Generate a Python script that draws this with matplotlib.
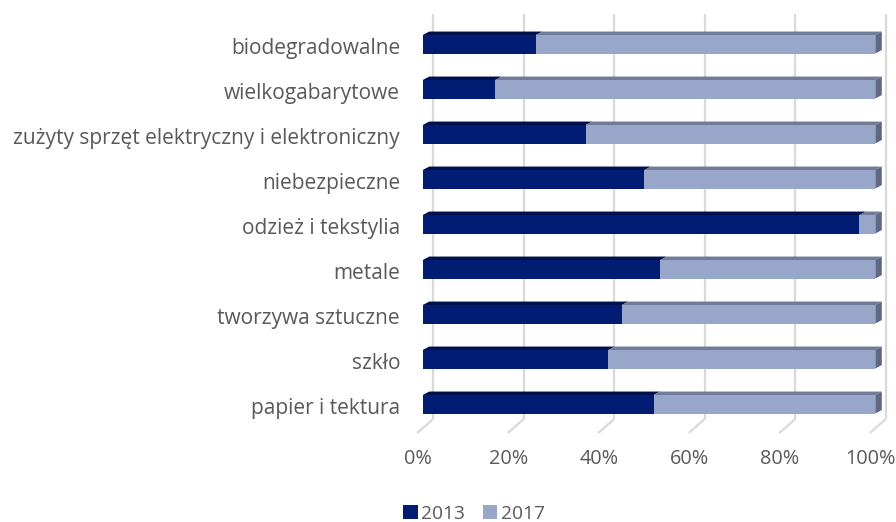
import matplotlib
matplotlib.use('Agg')
import matplotlib.pyplot as plt
from matplotlib.patches import Polygon, Patch
from matplotlib.transforms import ScaledTranslation

categories = ['biodegradowalne', 'wielkogabarytowe',
              'zużyty sprzęt elektryczny i elektroniczny', 'niebezpieczne',
              'odzież i tekstylia', 'metale', 'tworzywa sztuczne', 'szkło',
              'papier i tektura']
share_2013 = [25, 16, 36, 49, 96.5, 52.5, 44, 41, 51]
share_2017 = [75, 84, 64, 51, 3.5, 47.5, 56, 59, 49]
series_names = ['2013', '2017']
tick_values = [0, 20, 40, 60, 80, 100]
tick_labels = ['0%', '20%', '40%', '60%', '80%', '100%']

plt.rcParams['font.family'] = ['Open Sans', 'DejaVu Sans']
TXT = '#595959'
DARK = '#001C73'
DARK_TOP = '#00104C'
LIGHT = '#98A6C9'
LIGHT_TOP = '#6F7B97'
LIGHT_SIDE = '#5F6882'
GRID = '#D9D9D9'

W, H = 896, 522
fig = plt.figure(figsize=(W / 100, H / 100), dpi=100)

pxu = 4.526          # pixels per percent
x0_px = 422.7        # pixel of 0% on the front face
y0_px = 44.3         # pixel center of first bar
ystep = 45.0         # pixels per category
xlim = (-3, 104)
top_px, bot_px = 10, 440
ax_left = x0_px + xlim[0] * pxu
ax_w = (xlim[1] - xlim[0]) * pxu
ylim_top = (top_px - y0_px) / ystep
ylim_bot = (bot_px - y0_px) / ystep
ax = fig.add_axes([ax_left / W, (H - bot_px) / H, ax_w / W, (bot_px - top_px) / H])
ax.set_xlim(*xlim)
ax.set_ylim(ylim_bot, ylim_top)
for s in ax.spines.values():
    s.set_visible(False)

# depth offsets
bdx, bdy = 6.5 / pxu, 3.5 / ystep
gdx = 10.5 / pxu
fdx = -5.5 / pxu
g_top = (14 - y0_px) / ystep
g_floor = (419 - y0_px) / ystep
g_front = (433 - y0_px) / ystep

for v in tick_values:
    ax.plot([v + gdx, v + gdx], [g_top, g_floor], color=GRID, lw=1.6, zorder=0,
            solid_capstyle='butt')
    ax.plot([v + gdx, v + fdx], [g_floor, g_front], color=GRID, lw=1.6, zorder=0,
            solid_capstyle='butt')

ypos = list(range(len(categories)))
h = 18.5 / ystep
ax.barh(ypos, share_2013, height=h, color=DARK, zorder=3, label=series_names[0])
ax.barh(ypos, share_2017, left=share_2013, height=h, color=LIGHT, zorder=3,
        label=series_names[1])

for y, a, b in zip(ypos, share_2013, share_2017):
    yt = y - h / 2
    yb = y + h / 2
    ax.add_patch(Polygon([(0, yt), (a, yt), (a + bdx, yt - bdy), (0 + bdx, yt - bdy)],
                         closed=True, facecolor=DARK_TOP, edgecolor='none', zorder=2))
    ax.add_patch(Polygon([(a, yt), (a + b, yt), (a + b + bdx, yt - bdy), (a + bdx, yt - bdy)],
                         closed=True, facecolor=LIGHT_TOP, edgecolor='none', zorder=2))
    ax.add_patch(Polygon([(a + b, yt), (a + b, yb), (a + b + bdx, yb - bdy), (a + b + bdx, yt - bdy)],
                         closed=True, facecolor=LIGHT_SIDE, edgecolor='none', zorder=2))

ax.set_yticks(ypos)
ax.set_yticklabels(categories, fontsize=15, color=TXT)
ax.tick_params(axis='y', length=0, pad=6.5)
for lab in ax.get_yticklabels():
    lab.set_transform(lab.get_transform() + ScaledTranslation(0, -2 / 100, fig.dpi_scale_trans))
ax.set_xticks(tick_values)
ax.set_xticklabels(tick_labels, fontsize=14.3, color=TXT)
ax.tick_params(axis='x', length=0, pad=6.5)
off = ScaledTranslation(-5 / 100, 0, fig.dpi_scale_trans)
for lab in ax.get_xticklabels():
    lab.set_transform(lab.get_transform() + off)

handles = [Patch(facecolor=DARK, edgecolor='none'), Patch(facecolor=LIGHT, edgecolor='none')]
fig.legend(handles, series_names, loc='center', bbox_to_anchor=(474 / W, 1 - 514 / H),
           ncol=2, frameon=False, fontsize=13.8, labelcolor=TXT,
           handlelength=0.75, handleheight=0.75, handletextpad=0.2, columnspacing=0.9)

fig.savefig('out.png', dpi=100)
